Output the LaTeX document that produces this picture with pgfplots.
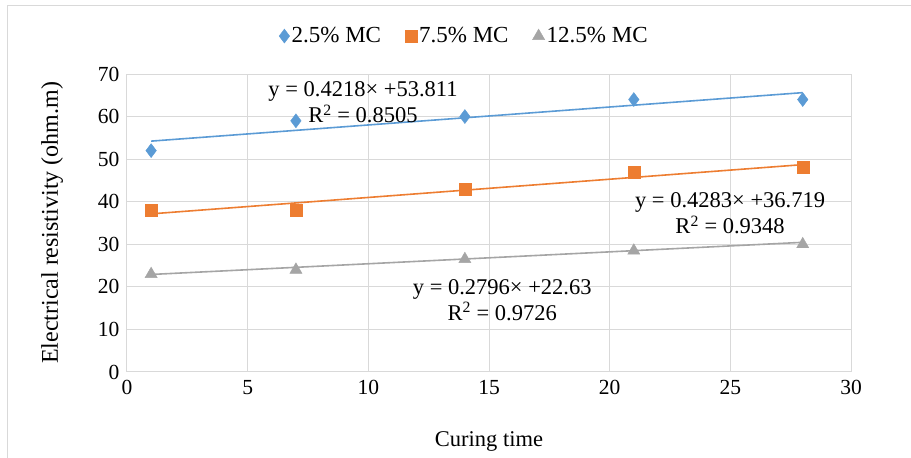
\documentclass[border=0pt]{standalone}
\usepackage{fontspec}
\setmainfont{Liberation Serif}
\usepackage{pgfplots}
\pgfplotsset{compat=1.18}
\definecolor{cblue}{HTML}{5B9BD5}
\definecolor{corange}{HTML}{ED7D31}
\definecolor{cgray}{HTML}{A5A5A5}
\definecolor{gridc}{HTML}{D9D9D9}
\begin{document}
\begin{tikzpicture}
\path[use as bounding box] (0pt,0pt) rectangle (911pt,458pt);
\draw[gridc, line width=1pt] (7pt,-5pt) rectangle (918pt,452pt);
\begin{axis}[
  at={(127pt,86pt)}, anchor=south west,
  scale only axis, width=724pt, height=298pt,
  xmin=0, xmax=30, ymin=0, ymax=70,
  xtick={0,5,...,30}, ytick={0,10,...,70},
  grid=major, major grid style={gridc, line width=1pt},
  axis line style={gridc, line width=1pt},
  tick style={draw=none},
  ticklabel style={font=\fontsize{21.5}{23}\selectfont},
  yticklabel style={xshift=-4pt},
  xticklabel style={yshift=-5pt},
  /pgf/number format/assume math mode=true,
  xlabel={Curing time}, ylabel={Electrical resistivity (ohm.m)},
  xlabel style={font=\fontsize{22.5}{24}\selectfont, at={(ticklabel cs:0.5)}, anchor=north, yshift=-30pt},
  ylabel style={font=\fontsize{24}{26}\selectfont, yshift=28pt},
  legend columns=3,
  legend style={draw=none, fill=none, font=\fontsize{23}{25}\selectfont,
    at={(0.466,1.085)}, anchor=south, /tikz/every even column/.append style={column sep=22pt}},
  legend image code/.code={\draw[#1] (0pt,0pt) plot coordinates {(0pt,0pt)};},
]
\addplot[only marks, mark=diamond*, mark size=7pt, color=cblue] coordinates {(1,52) (7,59) (14,60) (21,64) (28,64)};
\addlegendentry{2.5\% MC}
\addplot[only marks, mark=square*, mark size=6pt, color=corange] coordinates {(1,38) (7,38) (14,43) (21,47) (28,48)};
\addlegendentry{7.5\% MC}
\addplot[only marks, mark=triangle*, mark size=7pt, color=cgray] coordinates {(1,23) (7,24) (14,26.5) (21,28.5) (28,30)};
\addlegendentry{12.5\% MC}
\addplot[forget plot, cblue, line width=1.6pt] coordinates {(1,54.233) (28,65.621)};
\addplot[forget plot, corange, line width=1.6pt] coordinates {(1,37.147) (28,48.711)};
\addplot[forget plot, cgray, line width=1.6pt] coordinates {(1,22.910) (28,30.459)};
\node[align=center, font=\fontsize{22.5}{26}\selectfont] at (axis cs:9.78,63.3) {y = 0.4218× +53.811\\R\textsuperscript{2} = 0.8505};
\node[align=center, font=\fontsize{22.5}{26}\selectfont] at (axis cs:24.99,37.2) {y = 0.4283× +36.719\\R\textsuperscript{2} = 0.9348};
\node[align=center, font=\fontsize{22.5}{26}\selectfont] at (axis cs:15.55,16.9) {y = 0.2796× +22.63\\R\textsuperscript{2} = 0.9726};
\end{axis}
\end{tikzpicture}
\end{document}
